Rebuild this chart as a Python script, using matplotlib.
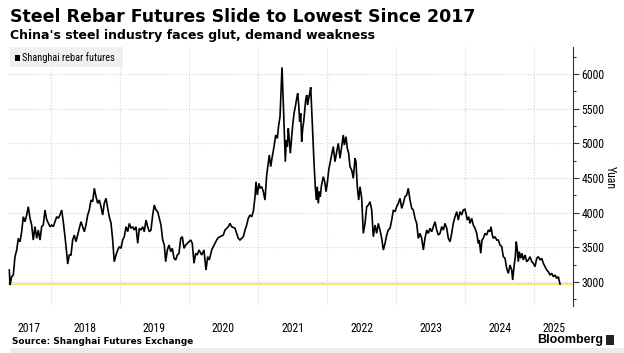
import matplotlib
matplotlib.use("Agg")
import matplotlib.pyplot as plt
from matplotlib import font_manager
from matplotlib.patches import Rectangle
from matplotlib.transforms import blended_transform_factory

# ---------------- data (decimal years, yuan per tonne) ----------------
dates = [
    2017.396, 2017.406, 2017.430, 2017.454, 2017.478, 2017.503, 2017.526, 2017.551, 2017.575, 2017.599,
    2017.623, 2017.648, 2017.671, 2017.696, 2017.720, 2017.743, 2017.768, 2017.793, 2017.816, 2017.841,
    2017.865, 2017.888, 2017.913, 2017.938, 2017.961, 2017.986,
    2018.010, 2018.033, 2018.058, 2018.083, 2018.106, 2018.130, 2018.155, 2018.178, 2018.203, 2018.228,
    2018.242, 2018.265, 2018.290, 2018.314, 2018.338, 2018.362, 2018.387, 2018.410, 2018.435, 2018.459,
    2018.483, 2018.507, 2018.532, 2018.555, 2018.580, 2018.604, 2018.628, 2018.652, 2018.677, 2018.700,
    2018.725, 2018.749, 2018.772, 2018.797, 2018.822, 2018.845, 2018.870, 2018.894, 2018.917, 2018.942,
    2018.967, 2018.990,
    2019.014, 2019.039, 2019.062, 2019.087, 2019.112, 2019.135, 2019.159, 2019.184, 2019.207, 2019.232,
    2019.257, 2019.280, 2019.304, 2019.329, 2019.352, 2019.377, 2019.401, 2019.425, 2019.449, 2019.474,
    2019.497, 2019.522, 2019.546, 2019.570, 2019.594, 2019.619, 2019.642, 2019.662, 2019.686, 2019.710,
    2019.735, 2019.758, 2019.783, 2019.807, 2019.830, 2019.855, 2019.880, 2019.903, 2019.928, 2019.952,
    2019.975,
    2020.000, 2020.025, 2020.048, 2020.072, 2020.097, 2020.120, 2020.145, 2020.184, 2020.217, 2020.246,
    2020.271, 2020.294, 2020.329, 2020.352, 2020.401, 2020.425, 2020.497, 2020.522, 2020.546, 2020.570,
    2020.594, 2020.619, 2020.667, 2020.691, 2020.714, 2020.739, 2020.787, 2020.812, 2020.836, 2020.859,
    2020.884, 2020.909, 2020.932, 2020.957, 2020.971, 2020.990,
    2021.014, 2021.029, 2021.054, 2021.077, 2021.101, 2021.126, 2021.149, 2021.164, 2021.184, 2021.207,
    2021.232, 2021.257, 2021.280, 2021.300, 2021.319, 2021.348, 2021.367, 2021.396, 2021.410, 2021.425,
    2021.439, 2021.454, 2021.468, 2021.488, 2021.503, 2021.522, 2021.541, 2021.561, 2021.575, 2021.590,
    2021.604, 2021.619, 2021.633, 2021.648, 2021.662, 2021.677, 2021.691, 2021.706, 2021.720, 2021.735,
    2021.749, 2021.764, 2021.778, 2021.793, 2021.812, 2021.830, 2021.845, 2021.859, 2021.874, 2021.888,
    2021.903, 2021.917, 2021.946, 2021.967, 2021.986,
    2022.004, 2022.025, 2022.043, 2022.091, 2022.116, 2022.141, 2022.164, 2022.188, 2022.213, 2022.236,
    2022.251, 2022.275, 2022.294, 2022.314, 2022.333, 2022.358, 2022.381, 2022.406, 2022.420, 2022.439,
    2022.459, 2022.478, 2022.503, 2022.526, 2022.551, 2022.575, 2022.599, 2022.623, 2022.648, 2022.671,
    2022.696, 2022.720, 2022.743, 2022.768, 2022.793, 2022.816, 2022.841, 2022.865, 2022.888, 2022.913,
    2022.938, 2022.961, 2022.986,
    2023.010, 2023.033, 2023.058, 2023.083, 2023.106, 2023.130, 2023.155, 2023.178, 2023.203, 2023.228,
    2023.251, 2023.275, 2023.300, 2023.323, 2023.348, 2023.372, 2023.396, 2023.420, 2023.445, 2023.468,
    2023.493, 2023.517, 2023.541, 2023.565, 2023.590, 2023.613, 2023.638, 2023.662, 2023.686, 2023.710,
    2023.735, 2023.758, 2023.783, 2023.807, 2023.830, 2023.855, 2023.880, 2023.903, 2023.928, 2023.952,
    2023.975,
    2024.000, 2024.014, 2024.033, 2024.054, 2024.072, 2024.097, 2024.120, 2024.145, 2024.170, 2024.193,
    2024.207, 2024.228, 2024.246, 2024.265, 2024.290, 2024.314, 2024.338, 2024.362, 2024.377, 2024.396,
    2024.410, 2024.435, 2024.459, 2024.483, 2024.507, 2024.532, 2024.555, 2024.580, 2024.604, 2024.628,
    2024.652, 2024.677, 2024.691, 2024.710, 2024.729, 2024.743, 2024.758, 2024.772, 2024.787, 2024.807,
    2024.826, 2024.845, 2024.870, 2024.894, 2024.917, 2024.942, 2024.967, 2024.990,
    2025.014, 2025.039, 2025.062, 2025.087, 2025.112, 2025.135, 2025.159, 2025.184, 2025.207, 2025.232,
    2025.257, 2025.280, 2025.304, 2025.329, 2025.352, 2025.377,
]
prices = [
    3173, 2957, 3077, 3100, 3365, 3460, 3630, 3580, 3726, 3942,
    3870, 3967, 4087, 3920, 3822, 3606, 3800, 3630, 3750, 3606,
    3800, 3822, 4039, 3900, 3850, 3798,
    3822, 3800, 3870, 3942, 3920, 3967, 4039, 3870, 3654, 3414,
    3260, 3390, 3390, 3606, 3678, 3582, 3678, 3775, 3870, 3798,
    3726, 3822, 3967, 4039, 4183, 4160, 4352, 4232, 4135, 4183,
    4087, 3967, 4135, 4208, 4063, 3942, 3850, 3606, 3293, 3390,
    3462, 3510,
    3486, 3606, 3654, 3798, 3726, 3846, 3775, 3798, 3750, 3798,
    3558, 3775, 3750, 3798, 3726, 3894, 3798, 3726, 3750, 3967,
    4111, 4039, 4015, 3920, 3822, 3606, 3534, 3293, 3462, 3534,
    3438, 3486, 3342, 3318, 3390, 3414, 3630, 3654, 3486, 3534,
    3558,
    3582, 3606, 3558, 3270, 3414, 3390, 3462, 3390, 3462, 3173,
    3366, 3318, 3462, 3510, 3606, 3640, 3678, 3750, 3775, 3798,
    3846, 3798, 3775, 3702, 3630, 3606, 3654, 3750, 3822, 3919,
    3967, 3942, 4015, 4231, 4447, 4255,
    4424, 4352, 4376, 4304, 4183, 4544, 4713, 4833, 4665, 4809,
    4953, 5121, 5073, 5265, 5385, 6098, 5578, 4736, 5049, 4953,
    5217, 5049, 4857, 5097, 5265, 5434, 5530, 5650, 5723, 5554,
    5313, 5434, 5025, 5217, 5313, 5482, 5626, 5698, 5554, 5650,
    5723, 5810, 5482, 5145, 4713, 4376, 4183, 4376, 4135, 4304,
    4231, 4376, 4520, 4448, 4304,
    4424, 4616, 4713, 4953, 4736, 4881, 5001, 4785, 4953, 5121,
    4977, 5097, 4929, 4857, 4664, 4616, 4496, 4785, 4736, 4375,
    4183, 4376, 4208, 3702, 3846, 4087, 4111, 4159, 4039, 3654,
    3822, 3702, 3846, 3750, 3630, 3462, 3558, 3678, 3750, 3775,
    3894, 4039, 4015,
    4087, 4135, 4208, 4063, 4135, 4231, 4255, 4352, 4183, 4063,
    4039, 3919, 3846, 3630, 3702, 3630, 3462, 3630, 3750, 3702,
    3775, 3726, 3798, 3870, 3750, 3678, 3702, 3798, 3750, 3846,
    3775, 3630, 3582, 3702, 3846, 3942, 4015, 3894, 4015, 3967,
    4039,
    4050, 3991, 3894, 3942, 3846, 3919, 3822, 3775, 3702, 3558,
    3606, 3414, 3606, 3630, 3702, 3678, 3750, 3726, 3798, 3678,
    3630, 3654, 3606, 3606, 3534, 3510, 3365, 3342, 3197, 3125,
    3245, 3173, 3029, 3221, 3365, 3582, 3462, 3293, 3438, 3342,
    3414, 3318, 3390, 3293, 3318, 3365, 3293, 3270,
    3221, 3342, 3366, 3318, 3342, 3270, 3221, 3173, 3149, 3101,
    3125, 3077, 3101, 3053, 3077, 2971,
]
year_ticks = [2018, 2019, 2020, 2021, 2022, 2023, 2024, 2025]
year_labels = ["2017", "2018", "2019", "2020", "2021", "2022", "2023", "2024", "2025"]
y_ticks = [3000, 3500, 4000, 4500, 5000, 5500, 6000]

title = "Steel Rebar Futures Slide to Lowest Since 2017"
subtitle = "China's steel industry faces glut, demand weakness"
legend_label = "Shanghai rebar futures"
source = "Source: Shanghai Futures Exchange"

# ---------------- fonts ----------------
available = {f.name for f in font_manager.fontManager.ttflist}
def pick(*names):
    for n in names:
        if n in available:
            return n
    return "DejaVu Sans"
narrow = pick("Liberation Sans Narrow", "Roboto Condensed", "Open Sans Condensed", "Roboto")
bold_font = "DejaVu Sans"
brand_font = pick("Liberation Sans", "Roboto", "DejaVu Sans")

# ---------------- figure ----------------
W, H = 624, 353
fig = plt.figure(figsize=(W / 100, H / 100), dpi=100)
fig.patch.set_facecolor("white")

def fx(px):
    return px / W

def fy(py):
    return 1 - py / H

ax_l, ax_r, ax_t, ax_b = 8, 573, 47, 306
ax = fig.add_axes([fx(ax_l), fy(ax_b), (ax_r - ax_l) / W, (ax_b - ax_t) / H])

x0, x1 = 2017.377, 2025.565
y0, y1 = 2654, 6391
ax.set_xlim(x0, x1)
ax.set_ylim(y0, y1)

# grid
for yv in y_ticks:
    ax.axhline(yv, color="#d4d4d4", lw=0.8, ls=(0, (1, 1.5)), zorder=0)
for xv in year_ticks:
    ax.axvline(xv, color="#d4d4d4", lw=0.8, ls=(0, (1, 1.5)), zorder=0)

# last value line
ax.axhline(prices[-1], color="#f2ea7a", lw=1.6, zorder=1)
ax.plot(dates, prices, color="black", lw=1.2, zorder=3, solid_joinstyle="miter")

# spines / ticks
for s in ["left", "top", "bottom"]:
    ax.spines[s].set_visible(False)
ax.spines["right"].set_color("#333333")
ax.spines["right"].set_linewidth(0.8)
ax.yaxis.tick_right()
ax.set_yticks(y_ticks)
ax.set_yticks(list(range(2750, 6391, 250)), minor=True)
ax.set_yticklabels([str(v) for v in y_ticks])
ax.tick_params(axis="y", which="major", direction="out", length=4, width=0.8,
               colors="#333333", labelsize=8.5, pad=2, labelcolor="black")
ax.tick_params(axis="y", which="minor", direction="out", length=2.5, width=0.8, colors="#333333")
for lab in ax.get_yticklabels():
    lab.set_fontfamily(narrow)
ax.set_xticks([])

# year labels centered on visible part of each year
trans = blended_transform_factory(ax.transData, ax.transAxes)
for lab in year_labels:
    yr = int(lab)
    a = max(yr, x0)
    b = min(yr + 1, dates[-1] + 0.2)
    ax.text((a + b) / 2, -(328 - ax_b) / (ax_b - ax_t), lab, transform=trans,
            ha="center", va="center", fontsize=8.5, family=narrow, color="black")

# y-axis title
fig.text(fx(610), fy(178), "Yuan", rotation=270, ha="center", va="center",
         fontsize=8.5, family=narrow)

# titles
fig.text(fx(10), fy(17), title, ha="left", va="center", fontsize=12.5,
         fontweight="bold", family=bold_font)
fig.text(fx(10), fy(36), subtitle, ha="left", va="center", fontsize=9,
         fontweight="bold", family=bold_font)

# legend box
fig.patches.append(Rectangle((fx(10), fy(67)), (123 - 10) / W, 20 / H,
                             transform=fig.transFigure, facecolor="#f0f0f0",
                             edgecolor="none", zorder=5))
fig.patches.append(Rectangle((fx(14.5), fy(60.5)), 5 / W, 5 / H,
                             transform=fig.transFigure, facecolor="black",
                             edgecolor="none", zorder=6))
fig.text(fx(22.5), fy(57.5), legend_label, ha="left", va="center", fontsize=7.5,
         family=narrow, zorder=7)

# source & branding
fig.text(fx(12), fy(341), source, ha="left", va="center", fontsize=6.4,
         fontweight="bold", family=bold_font)
fig.text(fx(603), fy(340), "Bloomberg", ha="right", va="center", fontsize=9,
         fontweight="bold", family=brand_font)
fig.patches.append(Rectangle((fx(606), fy(345)), 8 / W, 10 / H,
                             transform=fig.transFigure, facecolor="#222222",
                             edgecolor="none"))
fig.patches.append(Rectangle((fx(10), 0), 1 - fx(10), 5 / H,
                             transform=fig.transFigure, facecolor="#ececec",
                             edgecolor="none"))

fig.savefig("out.png", dpi=100)
